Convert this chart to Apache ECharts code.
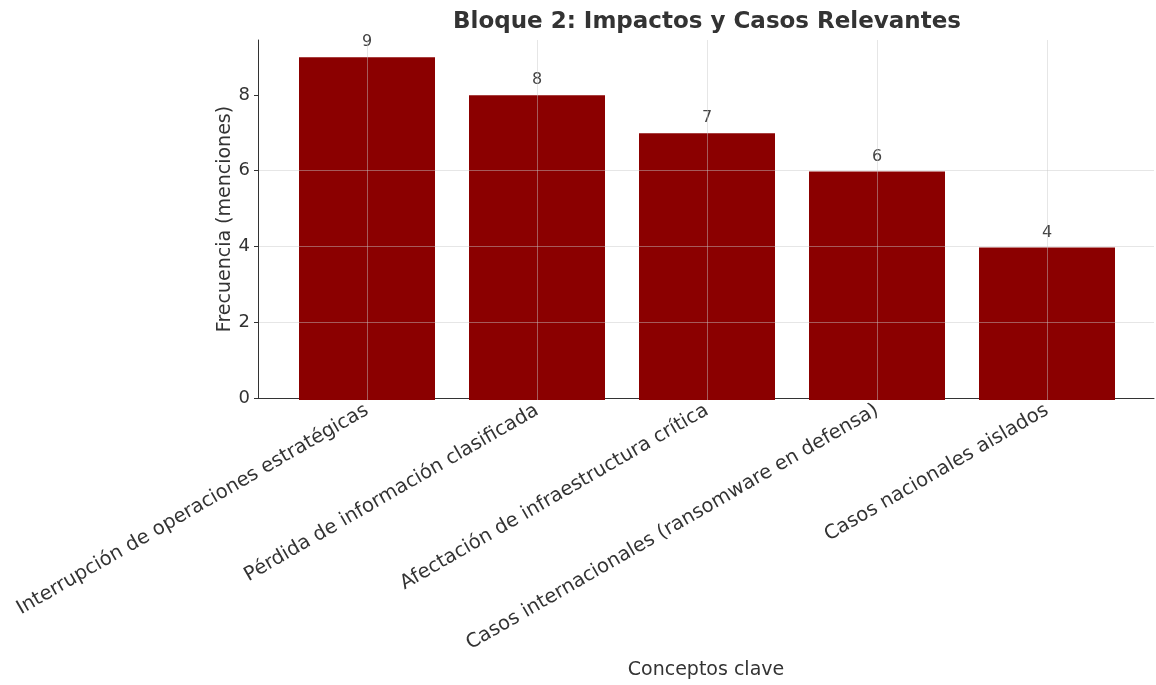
<!DOCTYPE html>
<html>
<head>
<meta charset="utf-8">
<script src="https://cdn.jsdelivr.net/npm/echarts@6/dist/echarts.min.js"></script>
<style>
  html, body { margin: 0; padding: 0; background: #fff; }
  #main { width: 1156px; height: 685px; }
</style>
</head>
<body>
<div id="main"></div>
<script>
// datos
var categorias = [
    'Interrupción de operaciones estratégicas',
    'Pérdida de información clasificada',
    'Afectación de infraestructura crítica',
    'Casos internacionales (ransomware en defensa)',
    'Casos nacionales aislados'
];
var frecuencias = [9, 8, 7, 6, 4];
var ticksY = [0, 2, 4, 6, 8];

var fuente = 'DejaVu Sans';
var chart = echarts.init(document.getElementById('main'));

var option = {
    backgroundColor: '#fff',
    animation: false,
    title: {
        text: 'Bloque 2: Impactos y Casos Relevantes',
        left: 702,
        textAlign: 'center',
        top: 6,
        textStyle: { fontFamily: fuente, fontSize: 23, fontWeight: 'bold', color: '#333' }
    },
    grid: [
        // barras
        { left: 282, width: 850, top: 40, bottom: 285 },
        // ejes y rejilla
        { left: 258, width: 896, top: 40, bottom: 285 }
    ],
    xAxis: [
        {
            type: 'category',
            gridIndex: 0,
            data: categorias,
            axisLine: { show: false },
            axisTick: { show: false },
            splitLine: { show: false },
            axisLabel: {
                rotate: 30,
                interval: 0,
                margin: 9,
                fontFamily: fuente,
                fontSize: 19.6,
                color: '#333'
            }
        },
        {
            type: 'value',
            gridIndex: 1,
            min: 0,
            max: 1,
            axisLine: { show: true, lineStyle: { color: '#333', width: 1 } },
            axisTick: { show: false },
            axisLabel: { show: false },
            splitLine: { show: false },
            name: 'Conceptos clave',
            nameLocation: 'middle',
            nameGap: 263,
            nameMoveOverlap: false,
            nameTextStyle: { fontFamily: fuente, fontSize: 19, color: '#333' }
        }
    ],
    yAxis: [
        {
            type: 'value',
            gridIndex: 0,
            min: 0,
            max: 9.45,
            show: false
        },
        {
            type: 'value',
            gridIndex: 1,
            min: 0,
            max: 9.45,
            z: 3,
            axisLine: { show: true, lineStyle: { color: '#333', width: 1 } },
            axisTick: { show: true, length: 4, lineStyle: { color: '#333' }, customValues: ticksY },
            axisLabel: {
                customValues: ticksY,
                fontFamily: fuente,
                fontSize: 18,
                color: '#333',
                margin: 8
            },
            splitLine: {
                show: true,
                showMinLine: false,
                showMaxLine: false,
                lineStyle: { color: 'rgba(200,200,200,0.45)', width: 1 }
            },
            name: 'Frecuencia (menciones)',
            nameLocation: 'middle',
            nameGap: 23,
            nameMoveOverlap: false,
            nameTextStyle: { fontFamily: fuente, fontSize: 19, color: '#333' }
        }
    ],
    series: [
        {
            type: 'bar',
            xAxisIndex: 0,
            yAxisIndex: 0,
            data: frecuencias,
            barWidth: 136,
            itemStyle: { color: '#8b0000' },
            label: {
                show: true,
                position: 'top',
                distance: 7,
                fontFamily: fuente,
                fontSize: 16,
                color: '#444'
            },
            markLine: {
                silent: true,
                symbol: 'none',
                label: { show: false },
                lineStyle: { type: 'solid', color: 'rgba(200,200,200,0.45)', width: 1 },
                data: categorias.map(function (c) { return { xAxis: c }; })
            }
        }
    ]
};

chart.setOption(option);
</script>
</body>
</html>
